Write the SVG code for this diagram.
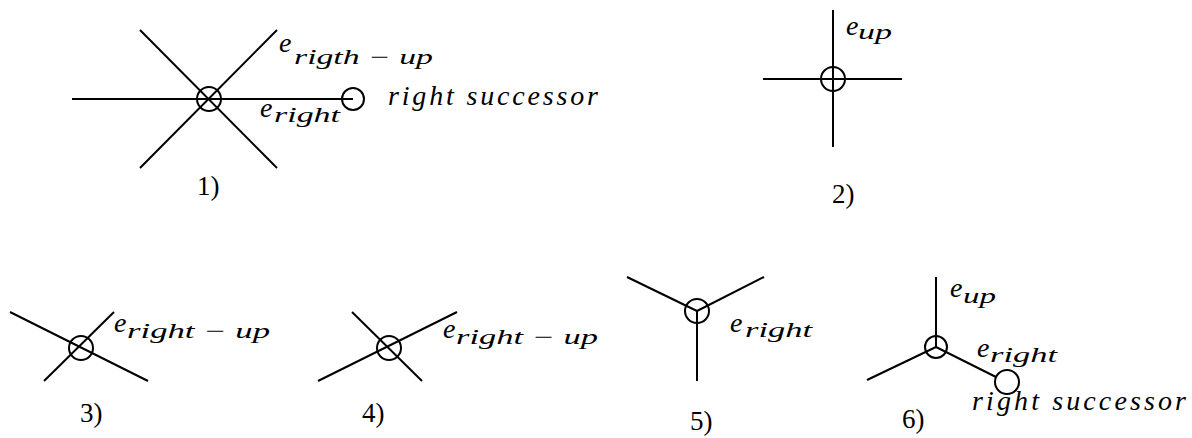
<svg xmlns="http://www.w3.org/2000/svg" width="1192" height="438" viewBox="0 0 1192 438">
<style>
.ln{stroke:#000;stroke-width:2;fill:none}
.nd{stroke:#000;stroke-width:2;fill:none}
.m{font-family:"Liberation Serif",serif;font-style:italic;font-size:28px;fill:#000}
.s{font-family:"Liberation Serif",serif;font-style:italic;font-size:21px;fill:#000}
.n{font-family:"Liberation Serif",serif;font-size:27px;fill:#000}
</style>
<rect width="1192" height="438" fill="#fff"/>
<g id="connectors">
<line class="ln" x1="72" y1="99" x2="353" y2="99"/>
<line class="ln" x1="140" y1="30" x2="277" y2="168"/>
<line class="ln" x1="140" y1="168" x2="277" y2="30"/>
<line class="ln" x1="833" y1="10" x2="833" y2="147"/>
<line class="ln" x1="763" y1="79" x2="902" y2="79"/>
<line class="ln" x1="10" y1="312" x2="148" y2="381"/>
<line class="ln" x1="44" y1="381" x2="114" y2="312"/>
<line class="ln" x1="318" y1="381" x2="457" y2="312"/>
<line class="ln" x1="352" y1="312" x2="422" y2="381"/>
<line class="ln" x1="627" y1="277" x2="697" y2="311"/>
<line class="ln" x1="764" y1="277" x2="697" y2="311"/>
<line class="ln" x1="697" y1="311" x2="697" y2="381"/>
<line class="ln" x1="936" y1="277" x2="936" y2="347"/>
<line class="ln" x1="867" y1="380" x2="936" y2="347"/>
<line class="ln" x1="936" y1="347" x2="996" y2="377"/>
</g>
<g id="d1-center"><circle class="nd" cx="209" cy="99" r="12"/></g>
<g id="d1-successor"><circle class="nd" cx="353" cy="99" r="11"/></g>
<g id="d2-center"><circle class="nd" cx="833" cy="79" r="12"/></g>
<g id="d3-center"><circle class="nd" cx="81" cy="348" r="12"/></g>
<g id="d4-center"><circle class="nd" cx="389" cy="348" r="12"/></g>
<g id="d5-center"><circle class="nd" cx="697" cy="311" r="12"/></g>
<g id="d6-center"><circle class="nd" cx="936" cy="347" r="11"/></g>
<g id="d6-successor"><circle class="nd" cx="1007" cy="382" r="12"/></g>
<g id="labels">
<text class="m" x="279" y="52">e</text><text class="s" x="294" y="64" textLength="139" lengthAdjust="spacingAndGlyphs">rigth − up</text>
<text class="m" x="260" y="117">e</text><text class="s" x="274" y="122" textLength="66" lengthAdjust="spacingAndGlyphs">right</text>
<text class="m" x="388" y="105" textLength="210" lengthAdjust="spacing">right successor</text>
<text class="n" x="197" y="195">1)</text>
<text class="m" x="846" y="35">e</text><text class="s" x="858" y="39" textLength="34" lengthAdjust="spacingAndGlyphs">up</text>
<text class="n" x="832" y="203">2)</text>
<text class="m" x="114" y="332">e</text><text class="s" x="127" y="338" textLength="143" lengthAdjust="spacingAndGlyphs">right − up</text>
<text class="n" x="80" y="422">3)</text>
<text class="m" x="443" y="338">e</text><text class="s" x="456" y="344" textLength="142" lengthAdjust="spacingAndGlyphs">right − up</text>
<text class="n" x="362" y="422">4)</text>
<text class="m" x="730" y="332">e</text><text class="s" x="745" y="337" textLength="67" lengthAdjust="spacingAndGlyphs">right</text>
<text class="n" x="690" y="430">5)</text>
<text class="m" x="950" y="297">e</text><text class="s" x="963" y="303" textLength="33" lengthAdjust="spacingAndGlyphs">up</text>
<text class="m" x="977" y="357">e</text><text class="s" x="990" y="362" textLength="67" lengthAdjust="spacingAndGlyphs">right</text>
<text class="m" x="972" y="410" textLength="214" lengthAdjust="spacing">right successor</text>
<text class="n" x="902" y="428">6)</text>
</g>
</svg>
